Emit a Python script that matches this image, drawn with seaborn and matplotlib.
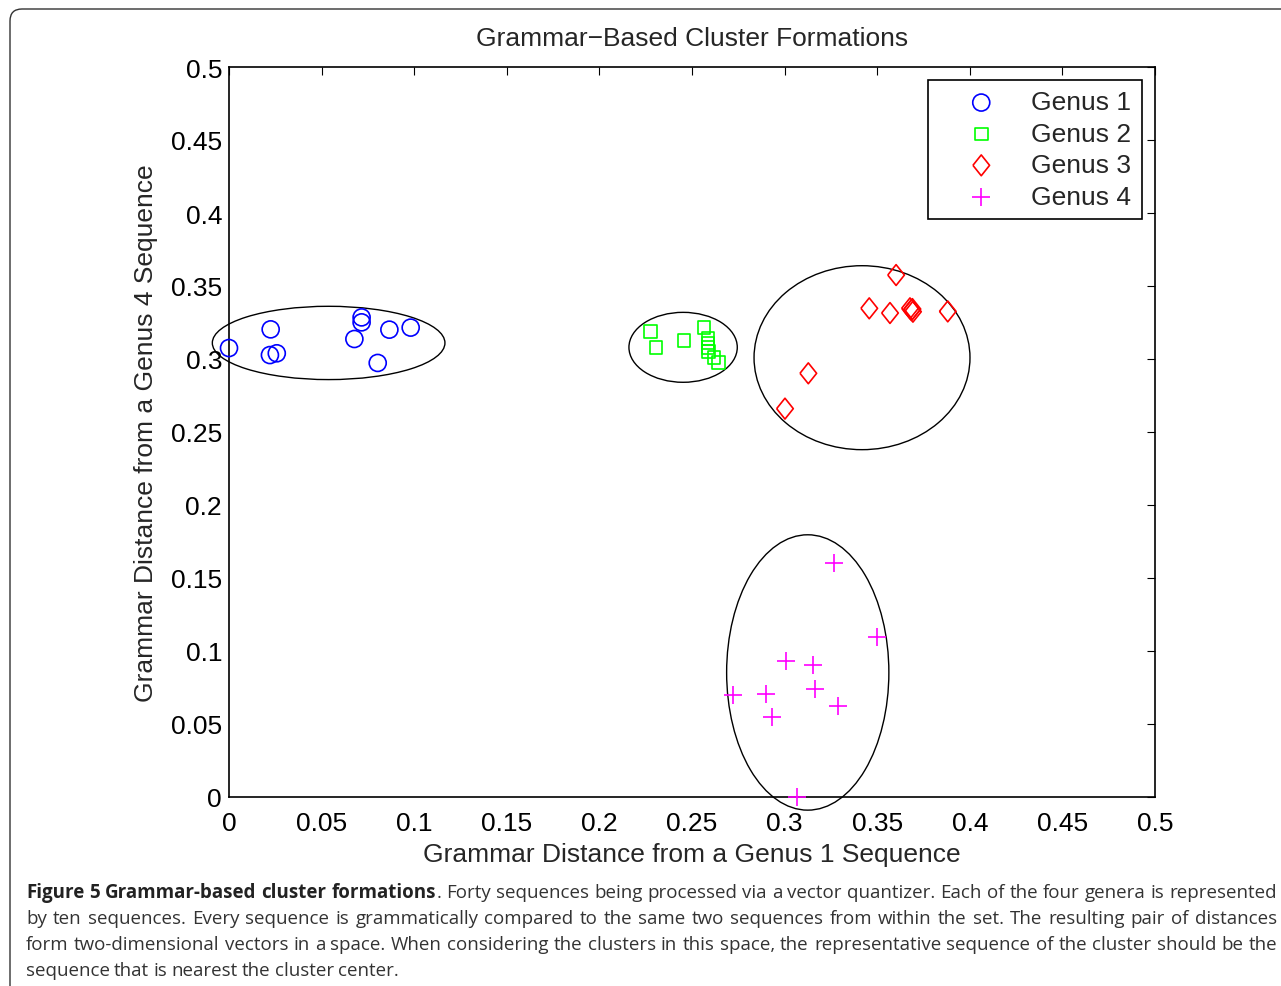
import numpy as np
import pandas as pd
import seaborn as sns
import matplotlib.pyplot as plt
from matplotlib.patches import Ellipse, FancyBboxPatch
from matplotlib.transforms import IdentityTransform

# Dữ liệu
genus_names = ['Genus 1', 'Genus 2', 'Genus 3', 'Genus 4']

g1_x = [0.0, 0.0225, 0.0221, 0.0258, 0.0716, 0.0716, 0.0677, 0.0866, 0.0981, 0.0803]
g1_y = [0.3075, 0.3203, 0.3027, 0.3039, 0.3285, 0.3251, 0.3137, 0.3201, 0.3215, 0.2973]

g2_x = [0.2277, 0.2306, 0.2457, 0.2565, 0.2586, 0.2586, 0.2586, 0.2588, 0.2619, 0.2642]
g2_y = [0.3187, 0.3080, 0.3128, 0.3217, 0.3140, 0.3110, 0.3079, 0.3051, 0.3012, 0.2977]

g3_x = [0.3602, 0.3457, 0.3569, 0.3677, 0.3690, 0.3693, 0.3685, 0.3881, 0.3128, 0.3002]
g3_y = [0.3575, 0.3347, 0.3315, 0.3347, 0.3342, 0.3324, 0.3335, 0.3326, 0.2902, 0.2660]

g4_x = [0.3268, 0.3497, 0.3008, 0.3155, 0.2720, 0.2900, 0.3164, 0.3287, 0.2930, 0.3069]
g4_y = [0.1601, 0.1098, 0.0934, 0.0906, 0.0701, 0.0705, 0.0740, 0.0625, 0.0550, 0.0]

# Các ellipse bao quanh cụm: tâm x, tâm y, rộng, cao
ell_cx = [0.0538, 0.2452, 0.3418, 0.3125]
ell_cy = [0.3110, 0.3080, 0.3009, 0.0853]
ell_w = [0.1256, 0.0585, 0.1166, 0.0876]
ell_h = [0.0502, 0.0479, 0.1260, 0.1886]

ticks = [0, 0.05, 0.1, 0.15, 0.2, 0.25, 0.3, 0.35, 0.4, 0.45, 0.5]
tick_labels = ['0', '0.05', '0.1', '0.15', '0.2', '0.25', '0.3', '0.35', '0.4', '0.45', '0.5']

df = pd.DataFrame({
    'x': g1_x + g2_x + g3_x + g4_x,
    'y': g1_y + g2_y + g3_y + g4_y,
    'genus': np.repeat(genus_names, 10),
})

colors = {'Genus 1': '#0000ff', 'Genus 2': '#00ff00', 'Genus 3': '#ff0000', 'Genus 4': '#ff00ff'}
diamond = [(-0.4, 0), (0, 0.5), (0.4, 0), (0, -0.5), (-0.4, 0)]
markers = {'Genus 1': 'o', 'Genus 2': 's', 'Genus 3': diamond, 'Genus 4': '+'}
sizes = {'Genus 1': 150, 'Genus 2': 85, 'Genus 3': 225, 'Genus 4': 150}

sns.set_style('white')
plt.rcParams['font.family'] = ['Liberation Sans', 'DejaVu Sans']

fig = plt.figure(figsize=(12.81, 9.87), dpi=100)
ax = fig.add_axes([229 / 1281, 1 - 798 / 987, 926 / 1281, 730 / 987])

for g in genus_names:
    sub = df[df['genus'] == g]
    if g == 'Genus 4':
        sns.scatterplot(data=sub, x='x', y='y', marker=markers[g], s=sizes[g],
                        color=colors[g], linewidth=1.2, label=g, ax=ax, clip_on=False, zorder=3)
    else:
        sns.scatterplot(data=sub, x='x', y='y', marker=markers[g], s=sizes[g],
                        facecolor='none', edgecolor=colors[g], color=colors[g],
                        linewidth=1.2, label=g, ax=ax, clip_on=False, zorder=3)

for cx, cy, w, h in zip(ell_cx, ell_cy, ell_w, ell_h):
    e = Ellipse((cx, cy), w, h, fill=False, edgecolor='black', linewidth=1.0, clip_on=False)
    ax.add_patch(e)

ax.set_xlim(0, 0.5)
ax.set_ylim(0, 0.5)
ax.set_xticks(ticks)
ax.set_xticklabels(tick_labels)
ax.set_yticks(ticks)
ax.set_yticklabels(tick_labels)
ax.tick_params(direction='in', length=6, width=0.8, labelsize=19, top=True, right=True,
               colors='black')
ax.tick_params(axis='x', pad=10)
ax.tick_params(axis='y', pad=5)
for sp in ax.spines.values():
    sp.set_linewidth(1.2)
    sp.set_color('black')

ax.set_title('Grammar\u2212Based Cluster Formations', fontsize=19, pad=16)
ax.set_xlabel('Grammar Distance from a Genus 1 Sequence', fontsize=19, labelpad=5)
ax.set_ylabel('Grammar Distance from a Genus 4 Sequence', fontsize=19, labelpad=9)

leg = ax.legend(loc='upper right', fontsize=19, frameon=True, fancybox=False,
                edgecolor='black', framealpha=1, borderaxespad=0.49, handletextpad=0.3,
                borderpad=0.4, labelspacing=0.28, handlelength=3.2)
leg.get_frame().set_linewidth(1.2)

# Khung viền bên ngoài (bo góc trên trái)
frame = FancyBboxPatch((10, -60), 1400, 987 - 10 + 60, boxstyle='round,pad=0,rounding_size=12',
                       transform=IdentityTransform(), fill=False, edgecolor='#333333', linewidth=1.0)
fig.add_artist(frame)

# Chú thích hình (căn đều hai bên như bản gốc)
cap_bold = 'Figure 5 Grammar-based cluster formations'
cap_lines = [
    '. Forty sequences being processed via a vector quantizer. Each of the four genera is represented',
    'by ten sequences. Every sequence is grammatically compared to the same two sequences from within the set. The resulting pair of distances',
    'form two-dimensional vectors in a space. When considering the clusters in this space, the representative sequence of the cluster should be the',
    'sequence that is nearest the cluster center.',
]
cap_y = [893, 919, 945, 971]
cap_font = ['Open Sans', 'DejaVu Sans']
fs = 13.5
left_px, right_px = 26, 1277
renderer = fig.canvas.get_renderer()

for i, line in enumerate(cap_lines):
    tokens = []  # (chữ, đậm?, dính vào từ trước?)
    if i == 0:
        tokens += [(w, True, False) for w in cap_bold.split()]
        rest = line.split()
        tokens.append((rest[0], False, True))
        tokens += [(w, False, False) for w in rest[1:]]
    else:
        tokens += [(w, False, False) for w in line.split()]
    arts = []
    for w, b, glue in tokens:
        t = fig.text(0, 1 - cap_y[i] / 987, w, family=cap_font, fontsize=fs, va='center',
                     fontweight='bold' if b else 'normal',
                     color='#222222' if b else '#333333')
        arts.append(t)
    widths = [a.get_window_extent(renderer=renderer).width for a in arts]
    n_gaps = sum(1 for _, _, glue in tokens[1:] if not glue)
    if i < len(cap_lines) - 1:
        gap = (right_px - left_px - sum(widths)) / n_gaps
    else:
        gap = 4.2
    x = left_px
    for k, (a, wd) in enumerate(zip(arts, widths)):
        if k > 0 and not tokens[k][2]:
            x += gap
        a.set_x(x / 1281)
        x += wd

fig.savefig('out.png', dpi=100)
